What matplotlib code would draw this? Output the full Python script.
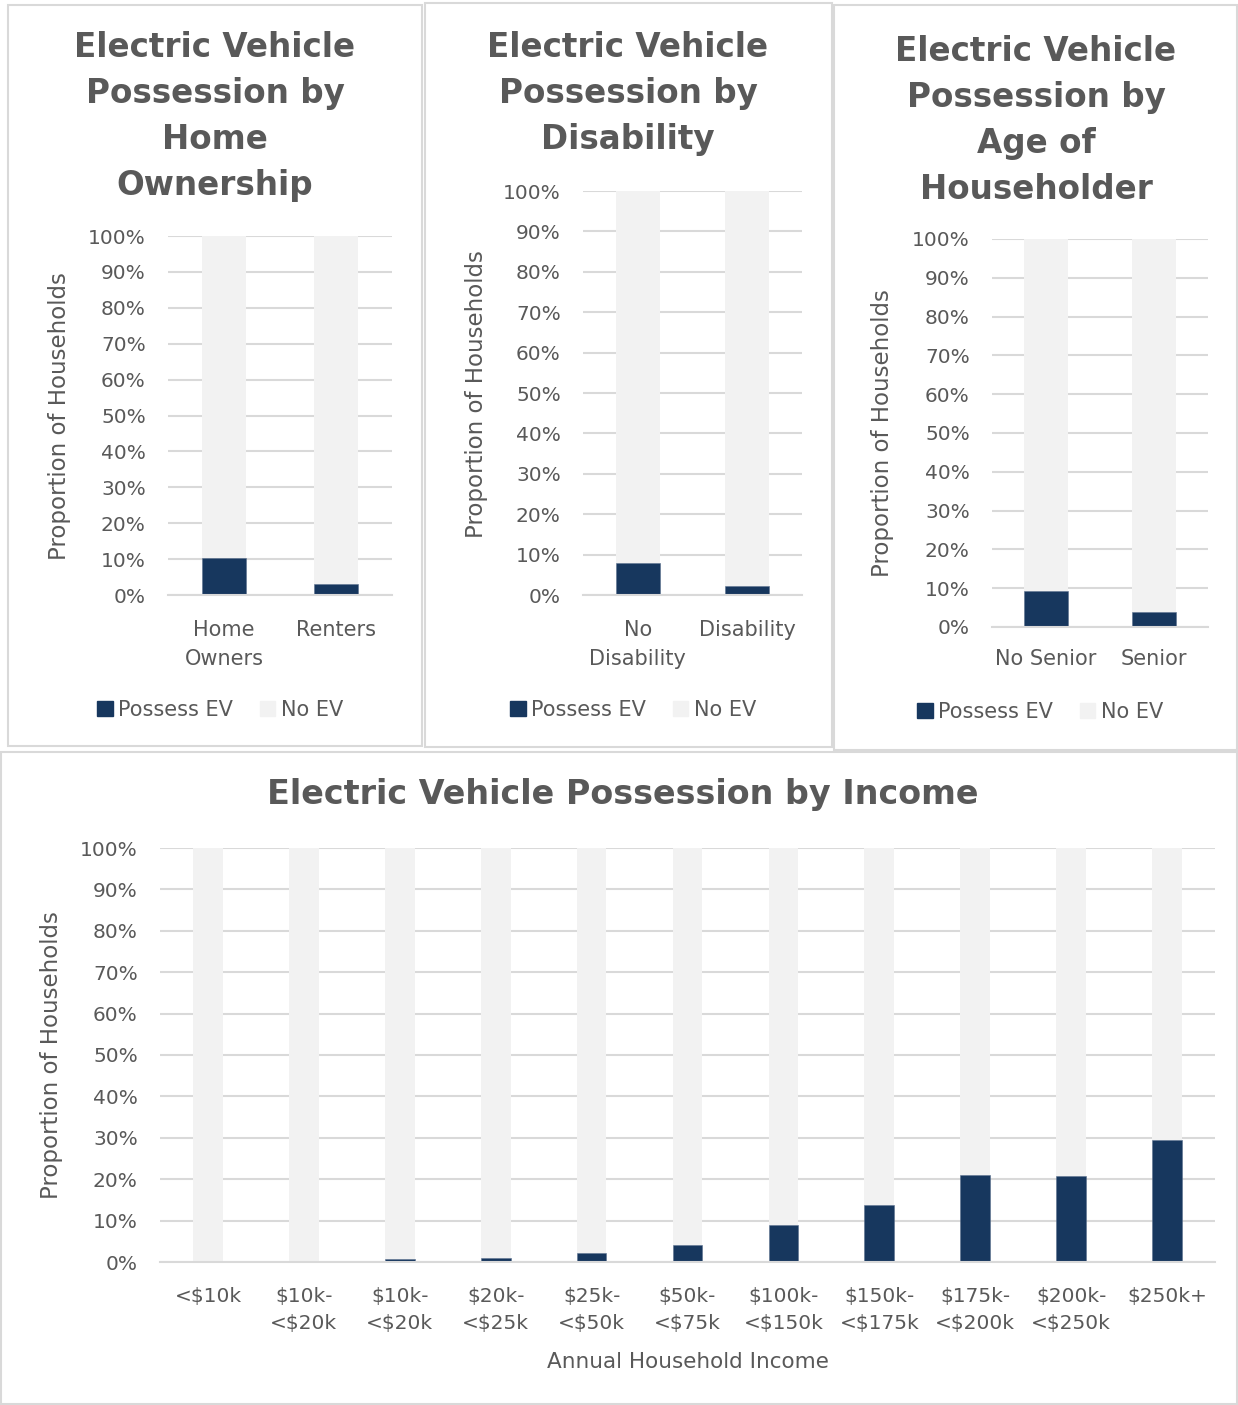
import matplotlib
matplotlib.use("Agg")
import matplotlib.pyplot as plt
from matplotlib.patches import Rectangle, Patch
from matplotlib.ticker import PercentFormatter

# data (share of households, %)
home_cats = ["Home\nOwners", "Renters"]
home_ev = [10.3, 3.1]

dis_cats = ["No\nDisability", "Disability"]
dis_ev = [7.9, 2.2]

age_cats = ["No Senior", "Senior"]
age_ev = [9.3, 3.9]

inc_cats = ["<$10k", "$10k-\n<$20k", "$10k-\n<$20k", "$20k-\n<$25k", "$25k-\n<$50k",
            "$50k-\n<$75k", "$100k-\n<$150k", "$150k-\n<$175k", "$175k-\n<$200k",
            "$200k-\n<$250k", "$250k+"]
inc_ev = [0.0, 0.0, 0.7, 1.0, 2.1, 4.2, 8.9, 13.7, 21.0, 20.7, 29.4]

yticks = list(range(0, 101, 10))

navy = "#17375E"
light = "#F2F2F2"
grid_c = "#D9D9D9"
txt = "#595959"

W, H = 1238, 1405
fig = plt.figure(figsize=(W / 100, H / 100), dpi=100)
fig.patch.set_facecolor("white")


def px(x0, y0, x1, y1):
    return [x0 / W, 1 - y1 / H, (x1 - x0) / W, (y1 - y0) / H]


# panel frames
for (x0, y0, x1, y1) in [(8, 5, 422, 746), (425, 3, 832, 747),
                         (834, 5, 1237, 750), (1, 752, 1237, 1404)]:
    fig.patches.append(Rectangle((x0 / W, 1 - y1 / H), (x1 - x0) / W, (y1 - y0) / H,
                                 transform=fig.transFigure, fill=False,
                                 edgecolor=grid_c, lw=1.5))


def stacked(ax, cats, ev, width, tick_fs, cat_fs, xpad):
    xs = list(range(len(cats)))
    rest = [100 - v for v in ev]
    ax.bar(xs, ev, width=width, color=navy, edgecolor="#5A6F8C", linewidth=0.4)
    ax.bar(xs, rest, bottom=ev, width=width, color=light, linewidth=0)
    ax.set_xlim(-0.5, len(cats) - 0.5)
    ax.set_ylim(0, 100)
    ax.set_yticks(yticks)
    ax.yaxis.set_major_formatter(PercentFormatter(decimals=0))
    ax.set_xticks(xs)
    ax.set_xticklabels(cats, fontsize=cat_fs, color=txt, linespacing=1.55)
    ax.tick_params(axis="y", length=0, labelsize=tick_fs, labelcolor=txt, pad=16)
    ax.tick_params(axis="x", length=0, pad=xpad)
    ax.grid(axis="y", color=grid_c, lw=1.5)
    ax.set_axisbelow(True)
    for s in ["top", "right", "left"]:
        ax.spines[s].set_visible(False)
    ax.spines["bottom"].set_color(grid_c)
    ax.spines["bottom"].set_linewidth(1.5)


def legend(ax, cx, cy, fs):
    handles = [Patch(facecolor=navy, edgecolor=navy), Patch(facecolor=light, edgecolor=light)]
    ax.legend(handles, ["Possess EV", "No EV"], loc="center",
              bbox_to_anchor=(cx / W, 1 - cy / H), bbox_transform=fig.transFigure,
              ncol=2, frameon=False, fontsize=fs, labelcolor=txt,
              handlelength=0.75, handleheight=0.75, handletextpad=0.25, columnspacing=1.3)


title_kw = dict(fontsize=23.5, fontweight="bold", color=txt, ha="center", va="top", linespacing=1.5)
ylab_kw = dict(fontsize=16.5, color=txt, rotation=90, ha="center", va="center")

# panel 1
ax1 = fig.add_axes(px(168, 236, 392, 595))
stacked(ax1, home_cats, home_ev, 0.39, 14.5, 15, 18)
fig.text(215 / W, 1 - 31 / H, "Electric Vehicle\nPossession by\nHome\nOwnership", **title_kw)
fig.text(60 / W, 1 - 416 / H, "Proportion of Households", **ylab_kw)
legend(ax1, 220, 710, 15)

# panel 2
ax2 = fig.add_axes(px(583, 191, 802, 595))
stacked(ax2, dis_cats, dis_ev, 0.4, 14.5, 15, 18)
fig.text(628 / W, 1 - 31 / H, "Electric Vehicle\nPossession by\nDisability", **title_kw)
fig.text(476 / W, 1 - 394 / H, "Proportion of Households", **ylab_kw)
legend(ax2, 633, 710, 15)

# panel 3
ax3 = fig.add_axes(px(992, 239, 1208, 627))
stacked(ax3, age_cats, age_ev, 0.4, 14.5, 15, 16)
fig.text(1036 / W, 1 - 35 / H, "Electric Vehicle\nPossession by\nAge of\nHouseholder", **title_kw)
fig.text(883 / W, 1 - 433 / H, "Proportion of Households", **ylab_kw)
legend(ax3, 1040, 712, 15)

# bottom panel
ax4 = fig.add_axes(px(160, 848, 1215, 1262))
stacked(ax4, inc_cats, inc_ev, 0.31, 14.5, 14.5, 18)
fig.text(623 / W, 1 - 795 / H, "Electric Vehicle Possession by Income",
         fontsize=24, fontweight="bold", color=txt, ha="center", va="center")
fig.text(52 / W, 1 - 1055 / H, "Proportion of Households", **ylab_kw)
fig.text(688 / W, 1 - 1362 / H, "Annual Household Income", fontsize=15.5, color=txt,
         ha="center", va="center")

fig.savefig("out.png", dpi=100, facecolor="white")
